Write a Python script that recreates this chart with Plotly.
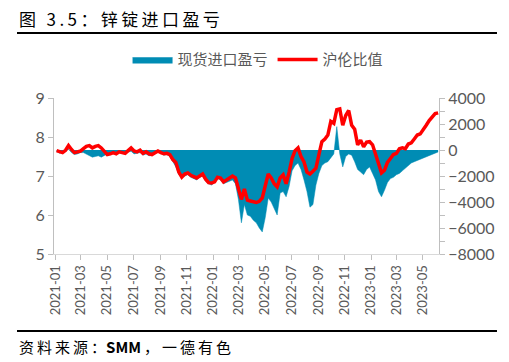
import plotly.graph_objects as go
import pandas as pd

# 沪伦比值 (left axis)
ratio = [7.65, 7.62, 7.60, 7.66, 7.78, 7.68, 7.60, 7.62, 7.64, 7.70, 7.76, 7.78, 7.72, 7.76, 7.78, 7.72,
         7.62, 7.55, 7.57, 7.60, 7.57, 7.62, 7.60, 7.58, 7.65, 7.72, 7.64, 7.62, 7.66, 7.58, 7.62, 7.57,
         7.55, 7.60,
         7.64, 7.60, 7.57, 7.58, 7.55, 7.42, 7.35, 7.10, 6.97, 7.05, 7.08, 7.02, 6.98, 6.95, 7.00, 7.05,
         6.92, 6.83, 6.82, 6.85, 6.97, 6.95, 6.85, 6.90, 6.95, 7.00, 6.95, 6.65, 6.40, 6.67, 6.38, 6.36,
         6.35, 6.32, 6.35, 6.44, 6.75, 7.05, 6.95, 6.80, 6.72, 6.95, 7.03, 6.80, 7.10, 7.45, 7.65, 7.72,
         7.50, 7.36, 7.10, 7.05, 7.12, 7.20, 7.55, 7.88, 7.95, 8.05, 8.40, 8.35, 8.70, 8.72, 8.30, 8.55,
         8.68, 8.30, 8.20, 7.80, 7.92, 7.75, 7.87, 7.88, 7.80, 7.54, 7.30, 7.08, 7.15, 7.35, 7.45, 7.55,
         7.58, 7.70, 7.72, 7.70, 7.82, 7.85, 7.95, 8.05, 8.08, 8.18, 8.30, 8.42, 8.50, 8.60, 8.62]

# 现货进口盈亏 (right axis)
profit = [-100, -250, -200, -100, 50, -200, -350, -300, -200, -200, -300, -400, -550, -500, -450, -550,
          -400, -300, -250, -200, -300, -200, -250, -300, -150, -100, -300, -250, -200, -400, -300, -450,
          -400, -250,
          -150, -250, -400, -350, -500, -900, -1300, -1900, -2100, -2000, -1900, -2100, -2200, -2300, -2100, -2000,
          -2400, -2600, -2700, -2500, -2200, -2300, -2600, -2500, -2400, -2300, -2600, -3800, -5600, -4200, -5000, -5100,
          -5400, -5600, -6000, -6300, -5200, -3700, -4000, -4500, -5000, -3300, -3200, -3600, -2800, -1600, -1200, -1000,
          -1500, -2300, -3200, -4400, -4200, -2700, -1800, -1200, -1000, -900, -600, -300, 1800, -300, -1300, -500,
          -300, -400, -900, -1500, -1700, -1900, -1500, -1300, -1800, -2300, -3200, -3600, -3100, -2500, -2200, -2100,
          -1900, -1800, -1600, -1400, -1200, -1000, -900, -800, -700, -600, -550, -450, -300, -200, -150]

dates = pd.date_range("2021-01-04", "2023-06-05", periods=len(ratio))

BLUE = "#008CB4"
RED = "#FF0000"
GRAY = "#595959"
TICKFONT = dict(family="Lato, Liberation Sans, sans-serif", size=16, color=GRAY)
CJK = "Noto Sans CJK SC"
TS = "\u2009"

title_text = TS.join(list("图 3.5：锌锭进口盈亏"))
source_text = TS.join(list("资料来源：")) + "<b>SMM</b>" + TS + TS.join(list("，一德有色"))

fig = go.Figure()
fig.add_trace(go.Scatter(x=dates, y=profit, name="现货进口盈亏", yaxis="y",
                         mode="lines", fill="tozeroy", fillcolor=BLUE,
                         line=dict(color=BLUE, width=0.5)))
fig.add_trace(go.Scatter(x=dates, y=ratio, name="沪伦比值", yaxis="y2",
                         mode="lines", line=dict(color=RED, width=3.5)))

fig.update_layout(
    width=501, height=354,
    margin=dict(l=46, r=70, t=90, b=108),
    paper_bgcolor="white", plot_bgcolor="white",
    showlegend=True,
    legend=dict(orientation="h", x=0.53, xanchor="center", y=1.245, yanchor="middle",
                font=dict(family=CJK, size=15, color=GRAY), bgcolor="rgba(0,0,0,0)",
                itemwidth=40, tracegroupgap=0),
    xaxis=dict(type="date", range=["2020-12-29", "2023-06-07"],
               tickformat="%Y-%m", dtick="M2", tick0="2021-01-01", tickangle=-90,
               tickfont=dict(family="Lato, Liberation Sans, sans-serif", size=13, color=GRAY),
               showgrid=False, showline=True, linecolor="#D9D9D9", linewidth=1,
               ticks="outside", ticklen=5, tickcolor="#BFBFBF", zeroline=False),
    yaxis=dict(range=[-8000, 4000], dtick=2000, side="right",
               showgrid=False, zeroline=False, showline=True, linecolor="#BFBFBF", linewidth=1,
               ticks="outside", ticklen=5, tickcolor="#BFBFBF", tickfont=TICKFONT,
               minor=dict(dtick=1000, ticks="outside", ticklen=5, tickcolor="#BFBFBF")),
    yaxis2=dict(range=[5, 9], dtick=1, overlaying="y", side="left",
                showgrid=False, zeroline=False,
                showline=True, linecolor="#BFBFBF", linewidth=1,
                ticks="outside", ticklen=5, tickcolor="#BFBFBF", tickfont=TICKFONT),
    shapes=[
        dict(type="line", xref="paper", yref="paper", x0=-0.0961, x1=1.1506, y0=1.4167, y1=1.4167,
             line=dict(color="black", width=2)),
        dict(type="line", xref="paper", yref="paper", x0=-0.0961, x1=1.1506, y0=-0.4936, y1=-0.4936,
             line=dict(color="black", width=2)),
    ],
    annotations=[
        dict(text=title_text, xref="paper", yref="paper", x=-0.0961, y=1.5128,
             xanchor="left", yanchor="middle", showarrow=False,
             font=dict(family=CJK, size=17, color="black")),
        dict(text=source_text, xref="paper", yref="paper", x=-0.0961, y=-0.596,
             xanchor="left", yanchor="middle", showarrow=False,
             font=dict(family=CJK, size=15, color="black")),
    ],
)

fig.write_html("out.html")
